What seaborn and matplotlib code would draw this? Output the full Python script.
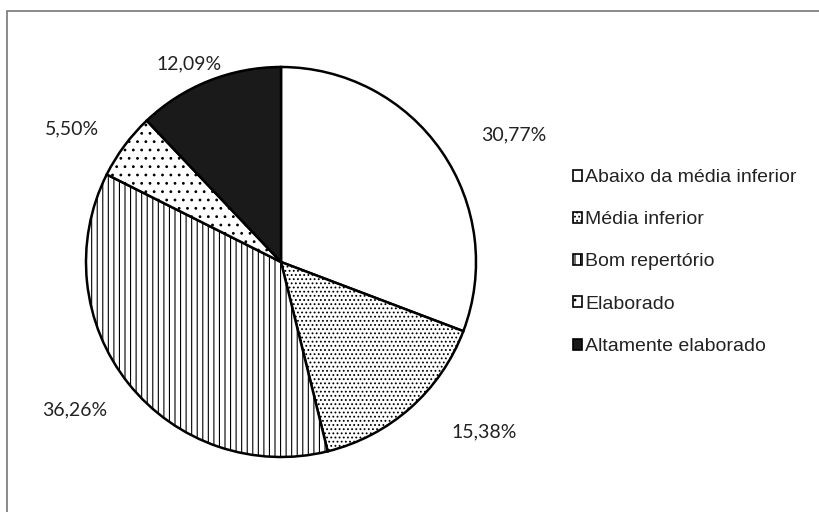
import matplotlib
matplotlib.use("Agg")
import numpy as np
import matplotlib.pyplot as plt
import seaborn as sns
from matplotlib.patches import Patch, Rectangle

categories = ["Abaixo da média inferior", "Média inferior", "Bom repertório",
              "Elaborado", "Altamente elaborado"]
values = [30.77, 15.38, 36.26, 5.50, 12.09]
colors = ["white", "white", "white", "white", "#1a1a1a"]
hatches = ["", "....", "|||", "..", ""]
# label placement ("best fit" style): radial distance and angle shift per slice
label_dist = [1.36, 1.36, 1.30, 1.27, 1.12]
label_shift = [-6, 8.5, -3, 4, 3]

sns.set_theme(style="white")
plt.rcParams["hatch.linewidth"] = 0.8
plt.rcParams["hatch.color"] = "black"

W, H = 820, 512
fig = plt.figure(figsize=(W / 100, H / 100), dpi=100)
fig.patch.set_facecolor("white")

# frame line (top and left)
fig.add_artist(Rectangle((7 / W, -0.1), 1.2, (H - 11) / H + 0.1, transform=fig.transFigure,
                         fill=False, edgecolor="#777777", linewidth=1.2))

cx, cy, R = 281, 262, 195
L = 1.03
side = 2 * L * R
ax = fig.add_axes([(cx - L * R) / W, (H - cy - L * R) / H, side / W, side / H])

def fmt(p):
    return f"{p:.2f}".replace(".", ",") + "%"

wedges, texts, autotexts = ax.pie(
    values, colors=colors, startangle=90, counterclock=False,
    autopct=fmt, pctdistance=1.24,
    wedgeprops=dict(edgecolor="black", linewidth=1.8),
    textprops=dict(family="Lato", fontsize=14, color="#222222"),
)
for w, h, t, d, s in zip(wedges, hatches, autotexts, label_dist, label_shift):
    w.set_hatch(h)
    ang = np.deg2rad((w.theta1 + w.theta2) / 2 + s)
    t.set_position((d * np.cos(ang), d * np.sin(ang)))
ax.set_xlim(-L, L)
ax.set_ylim(-L, L)
ax.set_aspect("equal")
ax.axis("off")

handles = [Patch(facecolor=c, edgecolor="black", hatch=h, linewidth=1.2)
           for c, h in zip(colors, hatches)]
fig.legend(handles, categories, loc="center left", bbox_to_anchor=(555 / W, (H - 262) / H),
           frameon=False, prop=dict(family="Liberation Sans", size=14),
           handlelength=0.5, handleheight=0.5, handletextpad=0.15,
           labelspacing=1.3, labelcolor="#222222")

fig.savefig("out.png", dpi=100, facecolor="white")
